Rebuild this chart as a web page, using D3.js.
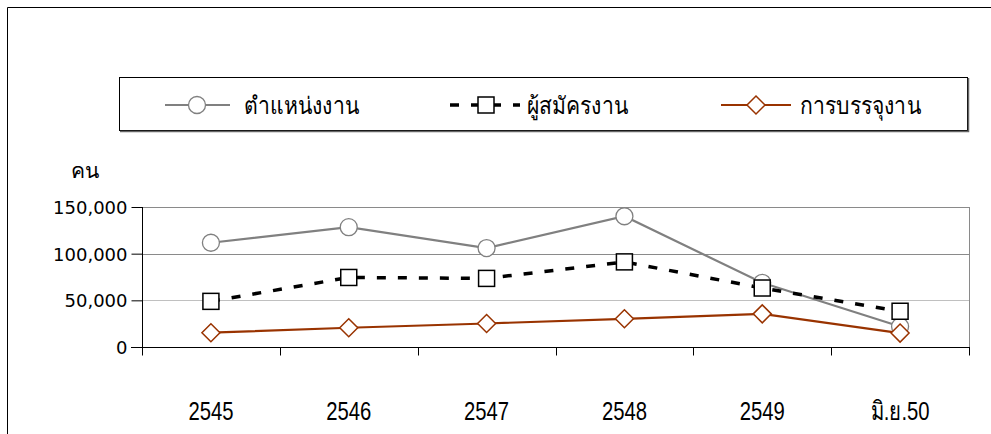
<!DOCTYPE html>
<html>
<head>
<meta charset="utf-8">
<script src="https://cdn.jsdelivr.net/npm/d3@7"></script>
<style>
  body { margin: 0; background: #fff; }
  svg { display: block; }
</style>
</head>
<body>
<div id="viz"></div>
<script>
// data
var categories = ["2545", "2546", "2547", "2548", "2549", "มิ.ย.50"];
var positions  = [111700, 128400, 106000, 140100, 68800, 22000];
var applicants = [48900, 74500, 73500, 91200, 63200, 38300];
var placements = [15300, 20600, 25200, 30200, 35500, 14900];
var yTicks = [0, 50000, 100000, 150000];
var seriesNames = ["ตำแหน่งงาน", "ผู้สมัครงาน", "การบรรจุงาน"];

var W = 991, H = 434;
var plot = {left: 142, right: 969, top: 207, bottom: 347};

var svg = d3.select("#viz").append("svg").attr("width", W).attr("height", H);

// outer frame (runs off right/bottom)
svg.append("path")
    .attr("d", "M7.5," + (H + 5) + "V7.5H" + (W + 5))
    .style("fill", "none").style("stroke", "#000").style("stroke-width", 1);

var x = d3.scaleBand().domain(categories).range([plot.left, plot.right]);
var y = d3.scaleLinear().domain([0, 150000]).range([plot.bottom, plot.top]);

var g = svg.append("g");

// gridlines
g.selectAll(".grid").data(yTicks.slice(1)).enter().append("line")
    .attr("x1", plot.left).attr("x2", plot.right)
    .attr("y1", function(d){ return Math.round(y(d)) + 0.5; })
    .attr("y2", function(d){ return Math.round(y(d)) + 0.5; })
    .style("stroke", function(d){ return d == 50000 ? "#c0c0c0" : "#8a8a8a"; })
    .style("stroke-width", 1);

// right border of plot
g.append("line")
    .attr("x1", plot.right + 0.5).attr("x2", plot.right + 0.5)
    .attr("y1", plot.top).attr("y2", plot.bottom)
    .style("stroke", "#8a8a8a");

// y axis
var yAxis = d3.axisLeft(y).tickValues(yTicks).tickSize(11).tickPadding(4)
    .tickFormat(d3.format(","));
var yg = g.append("g").attr("transform", "translate(" + (plot.left + 0.5) + ",0)").call(yAxis);
yg.select(".domain").remove();
yg.append("line").attr("y1", plot.top).attr("y2", plot.bottom + 8).style("stroke", "#000");
yg.selectAll("text")
    .style("font-family", "'DejaVu Sans', sans-serif")
    .style("font-size", "18px")
    .style("fill", "#000")
    .attr("dy", "0.36em");

// x axis
var xg = g.append("g").attr("transform", "translate(0," + (plot.bottom + 0.5) + ")");
xg.append("line").attr("x1", plot.left - 11).attr("x2", plot.right + 1).style("stroke", "#000");
var bounds = categories.map(function(c){ return x(c); }).concat([plot.right]);
xg.selectAll(".xt").data(bounds).enter().append("line")
    .attr("x1", function(d){ return Math.round(d) + 0.5; })
    .attr("x2", function(d){ return Math.round(d) + 0.5; })
    .attr("y1", 0).attr("y2", 8)
    .style("stroke", "#000");
// narrow-looking labels: squeeze horizontally
xg.selectAll(".xl").data(categories).enter().append("text")
    .attr("transform", function(d){ return "translate(" + (x(d) + x.bandwidth() / 2) + ",72) scale(0.78,1)"; })
    .attr("text-anchor", "middle")
    .style("font-family", "'Liberation Sans', Arial, sans-serif")
    .style("font-size", "26px")
    .text(function(d){ return d; });

// y title
svg.append("text")
    .attr("x", 71).attr("y", 178)
    .style("font-family", "'DejaVu Sans', sans-serif")
    .style("font-size", "21px")
    .text("คน");

var cx = function(d, i){ return x(categories[i]) + x.bandwidth() / 2; };
var line = d3.line().x(cx).y(function(d){ return y(d); });

// positions line
g.append("path").datum(positions).attr("d", line)
    .style("fill", "none").style("stroke", "#808080").style("stroke-width", 2.2);
// applicants dashed
g.append("path").datum(applicants).attr("d", line)
    .style("fill", "none").style("stroke", "#000").style("stroke-width", 3.5)
    .style("stroke-dasharray", "9,12");
// placements
g.append("path").datum(placements).attr("d", line)
    .style("fill", "none").style("stroke", "#993300").style("stroke-width", 2.2);

function circleMark(sel){
  sel.append("circle").attr("r", 8.5)
      .style("fill", "#fff").style("stroke", "#808080").style("stroke-width", 1.3);
}
function squareMark(sel){
  sel.append("rect").attr("x", -8).attr("y", -8).attr("width", 16).attr("height", 16)
      .style("fill", "#fff").style("stroke", "#000").style("stroke-width", 1.5);
}
function diamondMark(sel){
  sel.append("path").attr("d", "M0,-9L9,0L0,9L-9,0Z")
      .style("fill", "#fff").style("stroke", "#993300").style("stroke-width", 1.5);
}

function marks(data, fn){
  g.append("g").selectAll("g").data(data).enter().append("g")
      .attr("transform", function(d, i){ return "translate(" + cx(d, i) + "," + y(d) + ")"; })
      .call(fn);
}
marks(positions, circleMark);
marks(applicants, squareMark);
marks(placements, diamondMark);

// legend
var leg = svg.append("g");
leg.append("rect").attr("x", 119.5).attr("y", 77.5).attr("width", 848).attr("height", 53)
    .style("fill", "#fff").style("stroke", "#000");
leg.append("path").attr("d", "M968.5,78V131.5H120")
    .style("fill", "none").style("stroke", "#666").style("stroke-width", 1.5);

var ly = 105;
var items = [
  {x1: 165, x2: 230, mx: 197, tx: 244, stroke: "#808080", w: 2.2, dash: null, fn: circleMark},
  {x1: 450, x2: 520, mx: 486, tx: 527, stroke: "#000", w: 3.5, dash: "9,12", fn: squareMark},
  {x1: 721, x2: 791, mx: 756, tx: 800, stroke: "#993300", w: 2.2, dash: null, fn: diamondMark}
];
items.forEach(function(it, i){
  leg.append("line").attr("x1", it.x1).attr("x2", it.x2).attr("y1", ly).attr("y2", ly)
      .style("stroke", it.stroke).style("stroke-width", it.w)
      .style("stroke-dasharray", it.dash);
  leg.append("g").attr("transform", "translate(" + it.mx + "," + ly + ")").call(it.fn);
  leg.append("text")
      .attr("transform", "translate(" + it.tx + "," + (ly + 9) + ") scale(0.88,1)")
      .style("font-family", "'Liberation Sans', Arial, sans-serif")
      .style("font-size", "24px")
      .style("font-weight", 300)
      .text(seriesNames[i]);
});
</script>
</body>
</html>
